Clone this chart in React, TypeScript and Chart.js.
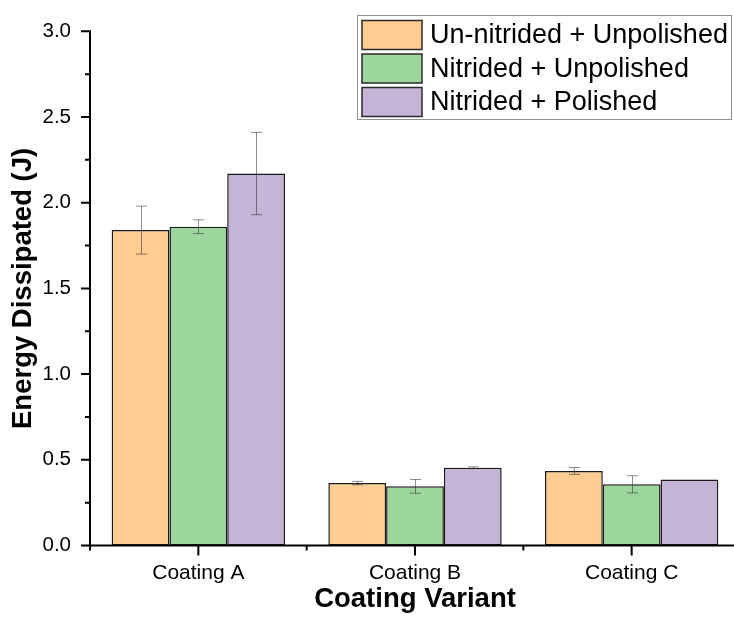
import React, { useEffect, useRef } from 'react';
import { Chart, registerables } from 'chart.js';

Chart.register(...registerables);

const categories = ['Coating A', 'Coating B', 'Coating C'];
const seriesLabels = ['Un-nitrided + Unpolished', 'Nitrided + Unpolished', 'Nitrided + Polished'];
const unnitridedUnpolished = [1.84, 0.364, 0.435];
const unnitridedUnpolishedErr = [0.14, 0.01, 0.02];
const nitridedUnpolished = [1.86, 0.345, 0.357];
const nitridedUnpolishedErr = [0.04, 0.04, 0.05];
const nitridedPolished = [2.17, 0.454, 0.385];
const nitridedPolishedErr = [0.24, 0.005, 0];
const yTicks = [0, 0.5, 1.0, 1.5, 2.0, 2.5, 3.0];
const yMinorTicks = [0.25, 0.75, 1.25, 1.75, 2.25, 2.75];
const seriesColors = ['#FFCC91', '#9DD69C', '#C6B4D6'];
const xTitle = 'Coating Variant';
const yTitle = 'Energy Dissipated (J)';

const errorSets = [unnitridedUnpolishedErr, nitridedUnpolishedErr, nitridedPolishedErr];
const FONT = "'Liberation Sans', Arial, Helvetica, sans-serif";

const drawPlugin = {
  id: 'customDraw',
  afterDatasetsDraw(chart: any) {
    const { ctx, scales } = chart;
    const y = scales.y;
    chart.data.datasets.forEach((ds: any, di: number) => {
      const meta = chart.getDatasetMeta(di);
      const errs = errorSets[di];
      meta.data.forEach((bar: any, i: number) => {
        const e = errs[i];
        if (!e) return;
        const v = ds.data[i];
        const top = y.getPixelForValue(v + e);
        const bot = y.getPixelForValue(v - e);
        const cx = Math.round(bar.x) + 0.5;
        ctx.save();
        ctx.strokeStyle = 'rgba(30,30,30,0.5)';
        ctx.lineWidth = 1;
        ctx.beginPath();
        ctx.moveTo(cx, top);
        ctx.lineTo(cx, bot);
        ctx.moveTo(cx - 5.5, top);
        ctx.lineTo(cx + 5.5, top);
        ctx.moveTo(cx - 5.5, bot);
        ctx.lineTo(cx + 5.5, bot);
        ctx.stroke();
        ctx.restore();
      });
    });
  },
  afterDraw(chart: any) {
    const { ctx, chartArea, scales } = chart;
    const x = scales.x;
    const y = scales.y;
    const L = chartArea.left;
    const B = chartArea.bottom;
    ctx.save();
    ctx.strokeStyle = '#000';
    ctx.lineWidth = 2;
    ctx.beginPath();
    // axis lines
    ctx.moveTo(L, B + 1);
    ctx.lineTo(L, y.getPixelForValue(yTicks[yTicks.length - 1]) - 1);
    ctx.moveTo(L - 1, B);
    ctx.lineTo(chart.width, B);
    // y ticks
    yTicks.forEach((v) => {
      const py = y.getPixelForValue(v);
      ctx.moveTo(L - 9, py);
      ctx.lineTo(L, py);
    });
    yMinorTicks.forEach((v) => {
      const py = y.getPixelForValue(v);
      ctx.moveTo(L - 5, py);
      ctx.lineTo(L, py);
    });
    // x ticks
    const n = categories.length;
    const w = (chartArea.right - chartArea.left) / n;
    categories.forEach((_, i) => {
      const px = x.getPixelForValue(i);
      ctx.moveTo(px, B);
      ctx.lineTo(px, B + 10);
    });
    for (let k = 0; k <= n; k++) {
      const px = L + k * w;
      ctx.moveTo(px, B);
      ctx.lineTo(px, B + 5);
    }
    ctx.stroke();
    ctx.restore();

    // legend
    ctx.save();
    const lx = 357.5, ly = 15.5, lw = 374, lh = 104;
    ctx.strokeStyle = '#8f8f8f';
    ctx.lineWidth = 1;
    ctx.strokeRect(lx, ly, lw, lh);
    ctx.font = `27px ${FONT}`;
    ctx.textBaseline = 'middle';
    ctx.textAlign = 'left';
    chart.data.datasets.forEach((ds: any, i: number) => {
      const sy = 20.5 + i * 33.5;
      ctx.fillStyle = ds.backgroundColor;
      ctx.fillRect(362, sy, 60, 29);
      ctx.strokeStyle = '#2a2a2a';
      ctx.lineWidth = 1.5;
      ctx.strokeRect(362, sy, 60, 29);
      ctx.fillStyle = '#000';
      ctx.fillText(ds.label, 430, sy + 15.5);
    });
    ctx.restore();
  },
};

export default function App() {
  const ref = useRef<HTMLCanvasElement | null>(null);
  useEffect(() => {
    if (!ref.current) return;
    const values = [unnitridedUnpolished, nitridedUnpolished, nitridedPolished];
    const chart = new Chart(ref.current, {
      type: 'bar',
      data: {
        labels: categories,
        datasets: values.map((d, i) => ({
          label: seriesLabels[i],
          data: d,
          backgroundColor: seriesColors[i],
          borderColor: '#1a1a1a',
          borderWidth: 1.5,
          borderSkipped: false,
          categoryPercentage: 0.8,
          barPercentage: 1.0,
        })),
      },
      options: {
        responsive: false,
        animation: false,
        devicePixelRatio: 1,
        layout: { padding: { top: 20, right: 10, left: 0, bottom: 0 } },
        plugins: {
          legend: { display: false },
          tooltip: { enabled: false },
        },
        scales: {
          x: {
            type: 'category',
            offset: true,
            grid: { display: false, drawTicks: false },
            border: { display: false },
            ticks: {
              color: '#000',
              padding: 15,
              font: { family: FONT, size: 21 },
              maxRotation: 0,
            },
            title: {
              display: true,
              text: xTitle,
              color: '#000',
              font: { family: FONT, size: 27.5, weight: 'bold' },
              padding: { top: 0, bottom: 12 },
            },
            afterFit: (s: any) => {
              s.height = 82.5;
            },
          },
          y: {
            min: 0,
            max: 3,
            grid: { display: false, drawTicks: false },
            border: { display: false },
            afterBuildTicks: (s: any) => {
              s.ticks = yTicks.map((v) => ({ value: v }));
            },
            ticks: {
              color: '#000',
              padding: 19,
              font: { family: FONT, size: 20.5 },
              callback: (v: any) => Number(v).toFixed(1),
            },
            title: {
              display: true,
              text: yTitle,
              color: '#000',
              font: { family: FONT, size: 27.5, weight: 'bold' },
              padding: { top: 7, bottom: 0 },
            },
            afterFit: (s: any) => {
              s.width = 90;
            },
          },
        },
      },
      plugins: [drawPlugin],
    });
    return () => chart.destroy();
  }, []);
  return (
    <div
      style={{
        position: 'fixed',
        left: 0,
        top: 0,
        width: 734,
        height: 628,
        overflow: 'hidden',
        background: '#fff',
      }}
    >
      <canvas ref={ref} width={750} height={628} style={{ display: 'block' }} />
    </div>
  );
}
